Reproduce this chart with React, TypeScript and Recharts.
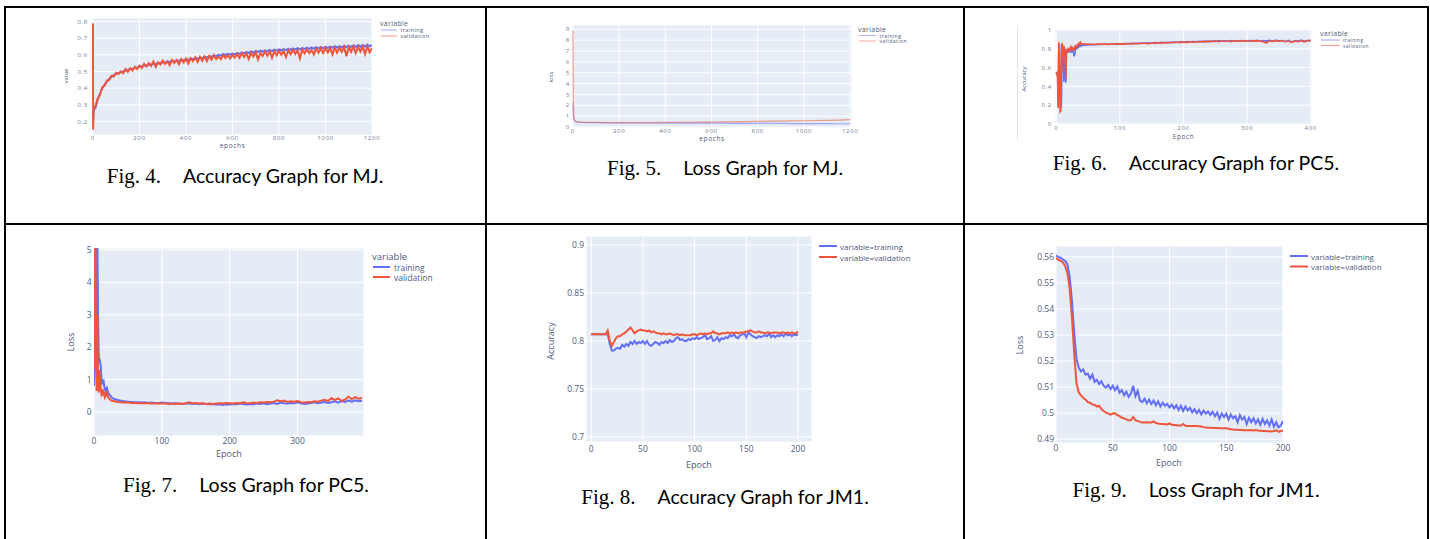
import React from 'react';
import { LineChart, Line, XAxis, YAxis, CartesianGrid } from 'recharts';

const TRAIN = '#636efa';
const VALID = '#ef553b';
const AXIS_FONT = '"Open Sans", sans-serif';

type Row = { epoch: number; training: number; validation: number };

function range(start: number, end: number, step: number) {
  const out: number[] = [];
  for (let v = start; v <= end + 1e-9; v += step) out.push(v);
  return out;
}

function rows(epochs: number[], training: number[], validation: number[]): Row[] {
  return epochs.map((epoch, i) => ({ epoch, training: training[i], validation: validation[i] }));
}

// ---- Fig. 4 : accuracy, MJ ----
const mjAccEpochs = [0, 1, 3, ...range(10, 1200, 10)];
const mjAccTraining = [
  0.26, 0.2, 0.27,
  0.28, 0.33, 0.365, 0.4, 0.42, 0.44, 0.455, 0.468, 0.478, 0.487,
  0.49, 0.497, 0.5, 0.507, 0.508, 0.515, 0.515, 0.522, 0.522, 0.53,
  0.53, 0.537, 0.535, 0.542, 0.54, 0.548, 0.545, 0.55, 0.55, 0.556,
  0.553, 0.56, 0.557, 0.563, 0.56, 0.567, 0.563, 0.57, 0.567, 0.573,
  0.57, 0.577, 0.573, 0.58, 0.577, 0.584, 0.58, 0.588, 0.584, 0.592,
  0.588, 0.597, 0.592, 0.6, 0.596, 0.604, 0.6, 0.606, 0.601, 0.608,
  0.603, 0.611, 0.606, 0.614, 0.609, 0.617, 0.611, 0.62, 0.614, 0.623,
  0.617, 0.625, 0.619, 0.627, 0.621, 0.629, 0.622, 0.631, 0.625, 0.633,
  0.627, 0.634, 0.628, 0.636, 0.63, 0.638, 0.631, 0.64, 0.633, 0.641,
  0.635, 0.643, 0.636, 0.644, 0.637, 0.646, 0.639, 0.647, 0.64, 0.648,
  0.642, 0.649, 0.643, 0.651, 0.644, 0.652, 0.645, 0.654, 0.646, 0.655,
  0.647, 0.656, 0.648, 0.658, 0.649, 0.659, 0.65, 0.661, 0.651, 0.658,
];
const mjAccValidation = [
  0.79, 0.15, 0.29,
  0.285, 0.335, 0.36, 0.405, 0.415, 0.445, 0.45, 0.475, 0.47, 0.492,
  0.485, 0.5, 0.49, 0.515, 0.498, 0.52, 0.505, 0.528, 0.515, 0.535,
  0.52, 0.545, 0.53, 0.55, 0.533, 0.56, 0.528, 0.555, 0.542, 0.565,
  0.545, 0.56, 0.538, 0.57, 0.552, 0.568, 0.543, 0.575, 0.555, 0.578,
  0.548, 0.58, 0.562, 0.585, 0.557, 0.588, 0.565, 0.59, 0.562, 0.592,
  0.57, 0.598, 0.575, 0.59, 0.574, 0.6, 0.58, 0.598, 0.578, 0.6,
  0.583, 0.605, 0.582, 0.61, 0.587, 0.608, 0.575, 0.612, 0.59, 0.615,
  0.572, 0.612, 0.593, 0.618, 0.595, 0.62, 0.582, 0.622, 0.598, 0.625,
  0.6, 0.622, 0.587, 0.628, 0.603, 0.63, 0.605, 0.628, 0.578, 0.632,
  0.608, 0.635, 0.61, 0.63, 0.602, 0.638, 0.612, 0.64, 0.61, 0.642,
  0.615, 0.64, 0.602, 0.645, 0.612, 0.643, 0.618, 0.648, 0.592, 0.645,
  0.618, 0.65, 0.61, 0.647, 0.62, 0.65, 0.605, 0.652, 0.615, 0.64,
];

// ---- Fig. 5 : loss, MJ ----
const mjLossEpochs = [0, 2, 4, 6, 10, 20, 40, 70, 100, 150, ...range(200, 1200, 50)];
const mjLossTraining = [
  2.2, 1.0, 0.7, 0.6, 0.52, 0.46, 0.43, 0.41, 0.4, 0.39,
  0.38, 0.38, 0.37, 0.37, 0.36, 0.36, 0.36, 0.35, 0.35, 0.35, 0.34,
  0.34, 0.33, 0.33, 0.33, 0.32, 0.31, 0.31, 0.31, 0.3, 0.3,
];
const mjLossValidation = [
  8.9, 2.4, 0.95, 0.7, 0.55, 0.48, 0.45, 0.43, 0.42, 0.41,
  0.4, 0.41, 0.4, 0.41, 0.42, 0.43, 0.44, 0.45, 0.46, 0.48, 0.47,
  0.5, 0.52, 0.54, 0.55, 0.57, 0.58, 0.6, 0.61, 0.64, 0.68,
];

// ---- Fig. 6 : accuracy, PC5 ----
const pc5AccEpochs = [...range(0, 40, 1), ...range(45, 400, 5)];
const pc5AccTraining = [
  0.55, 0.52, 0.56, 0.2, 0.82, 0.85, 0.3, 0.17, 0.19, 0.7,
  0.82, 0.78, 0.45, 0.8, 0.79, 0.44, 0.76, 0.78, 0.77, 0.79,
  0.78, 0.76, 0.8, 0.78, 0.77, 0.8, 0.78, 0.76, 0.72, 0.74,
  0.79, 0.8, 0.82, 0.81, 0.83, 0.82, 0.84, 0.83, 0.84, 0.83,
  0.84,
  0.838, 0.842, 0.845, 0.843, 0.848, 0.846, 0.85, 0.848,
  0.852, 0.85, 0.853, 0.851, 0.855, 0.853, 0.857, 0.855,
  0.86, 0.856, 0.862, 0.858, 0.865, 0.86, 0.867, 0.862,
  0.868, 0.864, 0.87, 0.866, 0.872, 0.868, 0.874, 0.87,
  0.876, 0.872, 0.878, 0.873, 0.88, 0.874, 0.882, 0.876,
  0.885, 0.878, 0.888, 0.88, 0.886, 0.879, 0.888, 0.881,
  0.886, 0.88, 0.889, 0.882, 0.888, 0.883, 0.89, 0.884,
  0.888, 0.882, 0.89, 0.884, 0.891, 0.885, 0.888, 0.878,
  0.889, 0.872, 0.886, 0.882, 0.89, 0.884, 0.888, 0.886,
];
const pc5AccValidation = [
  0.53, 0.55, 0.5, 0.17, 0.87, 0.6, 0.13, 0.14, 0.75, 0.86,
  0.84, 0.55, 0.83, 0.8, 0.78, 0.48, 0.78, 0.79, 0.8, 0.78,
  0.77, 0.8, 0.79, 0.82, 0.8, 0.81, 0.79, 0.8, 0.78, 0.82,
  0.81, 0.83, 0.82, 0.84, 0.83, 0.85, 0.86, 0.85, 0.87, 0.86,
  0.85,
  0.852, 0.848, 0.85, 0.846, 0.85, 0.848, 0.852, 0.847,
  0.85, 0.852, 0.848, 0.853, 0.85, 0.856, 0.852, 0.858,
  0.854, 0.86, 0.856, 0.862, 0.852, 0.864, 0.858, 0.866,
  0.86, 0.868, 0.862, 0.87, 0.864, 0.872, 0.866, 0.874,
  0.866, 0.876, 0.87, 0.878, 0.872, 0.88, 0.874, 0.882,
  0.876, 0.884, 0.876, 0.886, 0.878, 0.886, 0.876, 0.885,
  0.879, 0.887, 0.88, 0.886, 0.881, 0.887, 0.882, 0.886,
  0.876, 0.862, 0.884, 0.878, 0.887, 0.88, 0.886, 0.875,
  0.883, 0.868, 0.884, 0.876, 0.887, 0.874, 0.886, 0.89,
];

// ---- Fig. 7 : loss, PC5 ----
const pc5LossEpochs = [...range(0, 30, 1), ...range(35, 395, 5)];
const pc5LossTraining = [
  0.8, 1.5, 5.5, 3.0, 1.6, 5.3, 3.0, 1.7, 1.5, 1.55,
  1.4, 1.0, 0.85, 0.95, 1.0, 0.8, 0.7, 0.65, 0.72, 0.75,
  0.65, 0.6, 0.55, 0.52, 0.5, 0.48, 0.45, 0.43, 0.42, 0.41,
  0.4,
  0.37, 0.35, 0.33, 0.32, 0.31, 0.3, 0.3, 0.29, 0.3, 0.28,
  0.29, 0.28, 0.27, 0.29, 0.28, 0.27, 0.26, 0.27, 0.26, 0.25,
  0.26, 0.27, 0.25, 0.26, 0.24, 0.26, 0.25, 0.24, 0.25, 0.23,
  0.24, 0.22, 0.24, 0.23, 0.25, 0.24, 0.26, 0.25, 0.23, 0.25,
  0.24, 0.26, 0.25, 0.27, 0.24, 0.26, 0.28, 0.25, 0.29, 0.27,
  0.26, 0.28, 0.27, 0.3, 0.27, 0.25, 0.26, 0.28, 0.3, 0.27,
  0.29, 0.31, 0.28, 0.3, 0.33, 0.29, 0.34, 0.31, 0.35, 0.32,
  0.36, 0.33, 0.35,
];
const pc5LossValidation = [
  5.6, 1.3, 5.8, 1.5, 0.65, 3.0, 1.0, 0.6, 1.3, 1.0,
  0.7, 0.55, 0.6, 0.7, 0.5, 0.55, 0.45, 0.5, 0.6, 0.62,
  0.5, 0.45, 0.42, 0.4, 0.38, 0.36, 0.35, 0.34, 0.34, 0.33,
  0.33,
  0.31, 0.3, 0.29, 0.29, 0.28, 0.28, 0.27, 0.27, 0.27, 0.27,
  0.26, 0.26, 0.27, 0.26, 0.26, 0.25, 0.26, 0.25, 0.26, 0.25,
  0.27, 0.3, 0.27, 0.28, 0.26, 0.27, 0.25, 0.26, 0.25, 0.26,
  0.27, 0.26, 0.28, 0.27, 0.26, 0.28, 0.27, 0.3, 0.28, 0.27,
  0.29, 0.28, 0.3, 0.29, 0.31, 0.3, 0.32, 0.36, 0.33, 0.35,
  0.31, 0.33, 0.32, 0.34, 0.3, 0.29, 0.31, 0.3, 0.33, 0.32,
  0.35, 0.38, 0.34, 0.43, 0.37, 0.42, 0.34, 0.38, 0.47, 0.4,
  0.46, 0.41, 0.43,
];

// ---- Fig. 8 : accuracy, JM1 ----
const jm1Epochs = range(0, 200, 2);
const jm1AccTraining = [
  0.807, 0.807, 0.807, 0.807, 0.807, 0.807, 0.807, 0.807, 0.807, 0.797,
  0.79, 0.79, 0.792, 0.793, 0.792, 0.796, 0.794, 0.797, 0.795, 0.799,
  0.797, 0.8, 0.797, 0.799, 0.798, 0.8, 0.797, 0.8, 0.796, 0.795,
  0.797, 0.799, 0.798, 0.796, 0.799, 0.798, 0.8, 0.798, 0.801, 0.799,
  0.8, 0.803, 0.804, 0.801, 0.802, 0.8, 0.8, 0.802, 0.801, 0.803,
  0.802, 0.804, 0.802, 0.803, 0.804, 0.806, 0.802, 0.803, 0.805, 0.8,
  0.801, 0.804, 0.8, 0.803, 0.802, 0.804, 0.803, 0.806, 0.805, 0.807,
  0.804, 0.803, 0.806, 0.807, 0.808, 0.804, 0.809, 0.807, 0.805, 0.804,
  0.803, 0.805, 0.804, 0.805, 0.806, 0.805, 0.808, 0.804, 0.806, 0.804,
  0.806, 0.805, 0.807, 0.805, 0.808, 0.806, 0.807, 0.805, 0.807, 0.806,
  0.807,
];
const jm1AccValidation = [
  0.807, 0.807, 0.807, 0.807, 0.807, 0.807, 0.807, 0.807, 0.811, 0.8,
  0.795, 0.799, 0.803, 0.805, 0.805, 0.807, 0.808, 0.81, 0.812, 0.814,
  0.811, 0.808, 0.81, 0.811, 0.812, 0.811, 0.811, 0.81, 0.811, 0.809,
  0.81, 0.809, 0.808, 0.808, 0.807, 0.808, 0.807, 0.807, 0.808, 0.807,
  0.806, 0.807, 0.807, 0.806, 0.807, 0.806, 0.806, 0.806, 0.806, 0.807,
  0.807, 0.806, 0.807, 0.808, 0.807, 0.808, 0.807, 0.808, 0.808, 0.81,
  0.808, 0.808, 0.807, 0.808, 0.808, 0.808, 0.809, 0.808, 0.809, 0.808,
  0.809, 0.808, 0.809, 0.809, 0.809, 0.81, 0.81, 0.811, 0.81, 0.809,
  0.809, 0.81, 0.809, 0.809, 0.808, 0.809, 0.809, 0.808, 0.809, 0.809,
  0.809, 0.808, 0.809, 0.809, 0.808, 0.809, 0.808, 0.809, 0.808, 0.808,
  0.81,
];

// ---- Fig. 9 : loss, JM1 ----
const jm1LossTraining = [
  0.5605, 0.56, 0.5597, 0.559, 0.5585, 0.5572, 0.5525, 0.5435, 0.531, 0.521,
  0.5175, 0.516, 0.5168, 0.5148, 0.5152, 0.5132, 0.5148, 0.512, 0.5128, 0.5112,
  0.5122, 0.5105, 0.5098, 0.5108, 0.5092, 0.5105, 0.5088, 0.5102, 0.5078, 0.5088,
  0.5068, 0.5082, 0.5062, 0.5075, 0.5105, 0.5065, 0.5085, 0.5048, 0.5042, 0.5055,
  0.5038, 0.5052, 0.5035, 0.5048, 0.503, 0.5045, 0.5025, 0.504, 0.5028, 0.5035,
  0.5022, 0.5032, 0.5018, 0.503, 0.5012, 0.5028, 0.5008, 0.5025, 0.501, 0.502,
  0.5003, 0.5015, 0.5, 0.5012, 0.4995, 0.501, 0.4998, 0.5006, 0.4993, 0.5005,
  0.4988, 0.5002, 0.4978, 0.4998, 0.4985, 0.4998, 0.4975, 0.4995, 0.498, 0.4988,
  0.4965, 0.4992, 0.4975, 0.4985, 0.4958, 0.4982, 0.4965, 0.498, 0.496, 0.4975,
  0.4955, 0.4978, 0.4958, 0.4972, 0.4952, 0.4975, 0.4948, 0.4965, 0.4945, 0.4952,
  0.497,
];
const jm1LossValidation = [
  0.5595, 0.559, 0.5585, 0.558, 0.5565, 0.554, 0.548, 0.537, 0.523, 0.5115,
  0.508, 0.5068, 0.5058, 0.5052, 0.5042, 0.504, 0.5033, 0.5032, 0.5025, 0.5028,
  0.5015, 0.5008, 0.5002, 0.4998, 0.4994, 0.4998, 0.4999, 0.4992, 0.4988, 0.4982,
  0.498, 0.4976, 0.4972, 0.4972, 0.4985, 0.4972, 0.497, 0.4966, 0.4964, 0.4964,
  0.4965, 0.4964, 0.4964, 0.4968, 0.4962, 0.496, 0.4958, 0.4958, 0.4957, 0.4956,
  0.496, 0.4955, 0.4954, 0.4953, 0.4952, 0.4952, 0.4958, 0.4951, 0.495, 0.495,
  0.495, 0.495, 0.495, 0.4949, 0.4948, 0.4946, 0.4945, 0.4944, 0.4944, 0.4943,
  0.4943, 0.4943, 0.4942, 0.4942, 0.4942, 0.4942, 0.494, 0.4938, 0.4937, 0.4936,
  0.4936, 0.4935, 0.4935, 0.4934, 0.4934, 0.4934, 0.4934, 0.4933, 0.4935, 0.4933,
  0.4932, 0.4931, 0.4931, 0.493, 0.493, 0.4929, 0.4931, 0.4934, 0.4928, 0.4931,
  0.4932,
];

type Spec = {
  data: Row[];
  plot: { left: number; top: number; right: number; bottom: number };
  xDomain: [number, number];
  xTicks: number[];
  yDomain: [number, number];
  yTicks: number[];
  font: number;
  spacing: number;
  tickColor: string;
  xGap: number;
  yGap: number;
  lineWidth: number;
  lineOpacity: number;
};

const small = { font: 6, spacing: 0.7, tickColor: '#707b96', lineWidth: 1.6, lineOpacity: 1 };
const large = { font: 8.5, spacing: 0, tickColor: '#4f5b7a', lineWidth: 2, lineOpacity: 1 };

const panels: Spec[] = [
  {
    ...small,
    lineWidth: 2,
    data: rows(mjAccEpochs, mjAccTraining, mjAccValidation),
    plot: { left: 92, top: 18, right: 372, bottom: 135 },
    xDomain: [-4, 1200], xTicks: [0, 200, 400, 600, 800, 1000, 1200],
    yDomain: [0.119, 0.821], yTicks: [0.2, 0.3, 0.4, 0.5, 0.6, 0.7, 0.8],
    xGap: 1, yGap: 4,
  },
  {
    ...small,
    lineWidth: 1.2, lineOpacity: 0.55,
    data: rows(mjLossEpochs, mjLossTraining, mjLossValidation),
    plot: { left: 572, top: 25, right: 852, bottom: 128 },
    xDomain: [-4, 1208], xTicks: [0, 200, 400, 600, 800, 1000, 1200],
    yDomain: [-0.09, 9.4], yTicks: [0, 1, 2, 3, 4, 5, 6, 7, 8, 9],
    xGap: 1, yGap: 2,
  },
  {
    ...small,
    data: rows(pc5AccEpochs, pc5AccTraining, pc5AccValidation),
    plot: { left: 1055, top: 29, right: 1312, bottom: 125 },
    xDomain: [-2, 402], xTicks: [0, 100, 200, 300, 400],
    yDomain: [-0.011, 1.011], yTicks: [0, 0.2, 0.4, 0.6, 0.8, 1],
    xGap: 1, yGap: 3,
  },
  {
    ...large,
    data: rows(pc5LossEpochs, pc5LossTraining, pc5LossValidation),
    plot: { left: 94, top: 248, right: 364, bottom: 436 },
    xDomain: [0, 398], xTicks: [0, 100, 200, 300],
    yDomain: [-0.741, 5.062], yTicks: [0, 1, 2, 3, 4, 5],
    xGap: 1.5, yGap: 2.5,
  },
  {
    ...large,
    data: rows(jm1Epochs, jm1AccTraining, jm1AccValidation),
    plot: { left: 586, top: 236, right: 812, bottom: 442 },
    xDomain: [-5, 213.5], xTicks: [0, 50, 100, 150, 200],
    yDomain: [0.6948, 0.9094], yTicks: [0.7, 0.75, 0.8, 0.85, 0.9],
    xGap: 4, yGap: 2,
  },
  {
    ...large,
    data: rows(jm1Epochs, jm1LossTraining, jm1LossValidation),
    plot: { left: 1056, top: 246, right: 1283, bottom: 443 },
    xDomain: [0, 200], xTicks: [0, 50, 100, 150, 200],
    yDomain: [0.4885, 0.5642], yTicks: [0.49, 0.5, 0.51, 0.52, 0.53, 0.54, 0.55, 0.56],
    xGap: 2, yGap: 2,
  },
];

function Panel({ spec }: { spec: Spec }) {
  const { plot } = spec;
  const YW = 44;
  const RM = 18;
  const TM = 8;
  const XH = 18;
  const tick = { fontSize: spec.font, fill: spec.tickColor, fontFamily: AXIS_FONT, letterSpacing: spec.spacing };
  return (
    <div style={{ position: 'absolute', left: plot.left - YW, top: plot.top - TM }}>
      <LineChart
        width={YW + plot.right - plot.left + RM}
        height={TM + plot.bottom - plot.top + XH}
        data={spec.data}
        margin={{ top: TM, right: RM, bottom: 0, left: 0 }}
      >
        <CartesianGrid fill="#e5ecf6" fillOpacity={1} stroke="#ffffff" strokeWidth={1} />
        <XAxis
          type="number"
          dataKey="epoch"
          domain={spec.xDomain}
          ticks={spec.xTicks}
          allowDataOverflow
          interval={0}
          height={XH}
          axisLine={false}
          tickLine={false}
          tickSize={0}
          tickMargin={spec.xGap}
          tick={tick}
        />
        <YAxis
          type="number"
          domain={spec.yDomain}
          ticks={spec.yTicks}
          allowDataOverflow
          interval={0}
          width={YW}
          axisLine={false}
          tickLine={false}
          tickSize={0}
          tickMargin={spec.yGap}
          tick={tick}
        />
        <Line type="linear" dataKey="training" stroke={TRAIN} strokeWidth={spec.lineWidth} strokeOpacity={spec.lineOpacity} dot={false} isAnimationActive={false} />
        <Line type="linear" dataKey="validation" stroke={VALID} strokeWidth={spec.lineWidth} strokeOpacity={spec.lineOpacity} dot={false} isAnimationActive={false} />
      </LineChart>
    </div>
  );
}

const captions = [
  { x: 245, y: 183, fig: 'Fig. 4.', text: 'Accuracy Graph for MJ.' },
  { x: 725, y: 175, fig: 'Fig. 5.', text: 'Loss Graph for MJ.' },
  { x: 1196, y: 170, fig: 'Fig. 6.', text: 'Accuracy Graph for PC5.' },
  { x: 246, y: 491.5, fig: 'Fig. 7.', text: 'Loss Graph for PC5.' },
  { x: 725, y: 504, fig: 'Fig. 8.', text: 'Accuracy Graph for JM1.' },
  { x: 1196, y: 496.5, fig: 'Fig. 9.', text: 'Loss Graph for JM1.' },
];

const yTitles = [
  { x: 66, y: 76, text: 'value', size: 6 },
  { x: 550.5, y: 77, text: 'loss', size: 6 },
  { x: 1023.5, y: 79, text: 'Accuracy', size: 6 },
  { x: 70.5, y: 342, text: 'Loss', size: 9 },
  { x: 550.5, y: 341, text: 'Accuracy', size: 9 },
  { x: 1019.5, y: 345, text: 'Loss', size: 9 },
];

const xTitles = [
  { x: 232.5, y: 148, text: 'epochs', size: 6.5 },
  { x: 712, y: 141, text: 'epochs', size: 6.5 },
  { x: 1183.5, y: 138.5, text: 'Epoch', size: 6.5 },
  { x: 229, y: 457, text: 'Epoch', size: 9 },
  { x: 699, y: 468, text: 'Epoch', size: 9 },
  { x: 1169, y: 466, text: 'Epoch', size: 9 },
];

type LegendSpec = {
  x: number;
  title?: { y: number; size: number };
  rows: [number, number];
  labels: [string, string];
  lineLen: number;
  textGap: number;
  size: number;
  width: number;
  opacity: number;
};

const legends: LegendSpec[] = [
  { x: 381, title: { y: 25.5, size: 7 }, rows: [30, 36], labels: ['training', 'validation'], lineLen: 16, textGap: 3.5, size: 5.5, width: 1, opacity: 0.6 },
  { x: 859, title: { y: 32, size: 7 }, rows: [35.5, 41], labels: ['training', 'validation'], lineLen: 17, textGap: 3.5, size: 5.2, width: 1, opacity: 0.5 },
  { x: 1321, title: { y: 36, size: 7 }, rows: [40, 45.5], labels: ['training', 'validation'], lineLen: 19, textGap: 3, size: 4.8, width: 1.2, opacity: 0.55 },
  { x: 373, title: { y: 260, size: 9.5 }, rows: [267, 277], labels: ['training', 'validation'], lineLen: 17, textGap: 4, size: 8.5, width: 2, opacity: 1 },
  { x: 819, rows: [246, 257], labels: ['variable=training', 'variable=validation'], lineLen: 18, textGap: 3, size: 8, width: 2, opacity: 1 },
  { x: 1290, rows: [256, 266.5], labels: ['variable=training', 'variable=validation'], lineLen: 18, textGap: 3, size: 8, width: 2, opacity: 1 },
];

function Overlay() {
  const ink = '#4f5b7a';
  return (
    <svg width={1430} height={539} style={{ position: 'absolute', left: 0, top: 0, pointerEvents: 'none' }}>
      {/* table rules */}
      <rect x={4} y={6} width={1425} height={2} fill="#000" />
      <rect x={4} y={223} width={1425} height={2} fill="#000" />
      <rect x={4} y={6} width={2} height={533} fill="#000" />
      <rect x={485} y={6} width={2} height={533} fill="#000" />
      <rect x={963} y={6} width={2} height={533} fill="#000" />
      <rect x={1427} y={6} width={2} height={533} fill="#000" />
      <line x1={1017.5} y1={27} x2={1017.5} y2={140} stroke="#e2e2e2" strokeWidth={1} />

      {captions.map((c) => (
        <text key={c.fig} x={c.x} y={c.y} textAnchor="middle" fill="#000">
          <tspan fontFamily='"Liberation Serif", serif' fontSize={21}>{c.fig}</tspan>
          <tspan dx={22} fontFamily="Lato, sans-serif" fontSize={19.5}>{c.text}</tspan>
        </text>
      ))}

      {yTitles.map((t, i) => (
        <text
          key={`y${i}`}
          transform={`translate(${t.x},${t.y}) rotate(-90)`}
          textAnchor="middle"
          dominantBaseline="central"
          fontFamily={AXIS_FONT}
          fontSize={t.size}
          fill={ink}
        >
          {t.text}
        </text>
      ))}

      {xTitles.map((t, i) => (
        <text key={`x${i}`} x={t.x} y={t.y} textAnchor="middle" fontFamily={AXIS_FONT} fontSize={t.size} fill={ink} letterSpacing={t.size < 8 ? 0.6 : 0}>
          {t.text}
        </text>
      ))}

      {legends.map((l, i) => (
        <g key={`l${i}`} fontFamily={AXIS_FONT} fill={ink}>
          {l.title && (
            <text x={l.x - 1} y={l.title.y} fontSize={l.title.size} letterSpacing={l.title.size < 8 ? 0.3 : 0}>
              variable
            </text>
          )}
          {l.rows.map((ry, j) => (
            <g key={j}>
              <line x1={l.x} y1={ry} x2={l.x + l.lineLen} y2={ry} stroke={j === 0 ? TRAIN : VALID} strokeWidth={l.width} strokeOpacity={l.opacity} />
              <text x={l.x + l.lineLen + l.textGap} y={ry} dominantBaseline="central" fontSize={l.size} letterSpacing={l.size < 7 ? 0.4 : 0}>
                {l.labels[j]}
              </text>
            </g>
          ))}
        </g>
      ))}
    </svg>
  );
}

export default function App() {
  return (
    <div style={{ position: 'absolute', left: 0, top: 0, width: 1430, height: 539, background: '#fff', overflow: 'hidden' }}>
      {panels.map((p, i) => (
        <Panel key={i} spec={p} />
      ))}
      <Overlay />
    </div>
  );
}
